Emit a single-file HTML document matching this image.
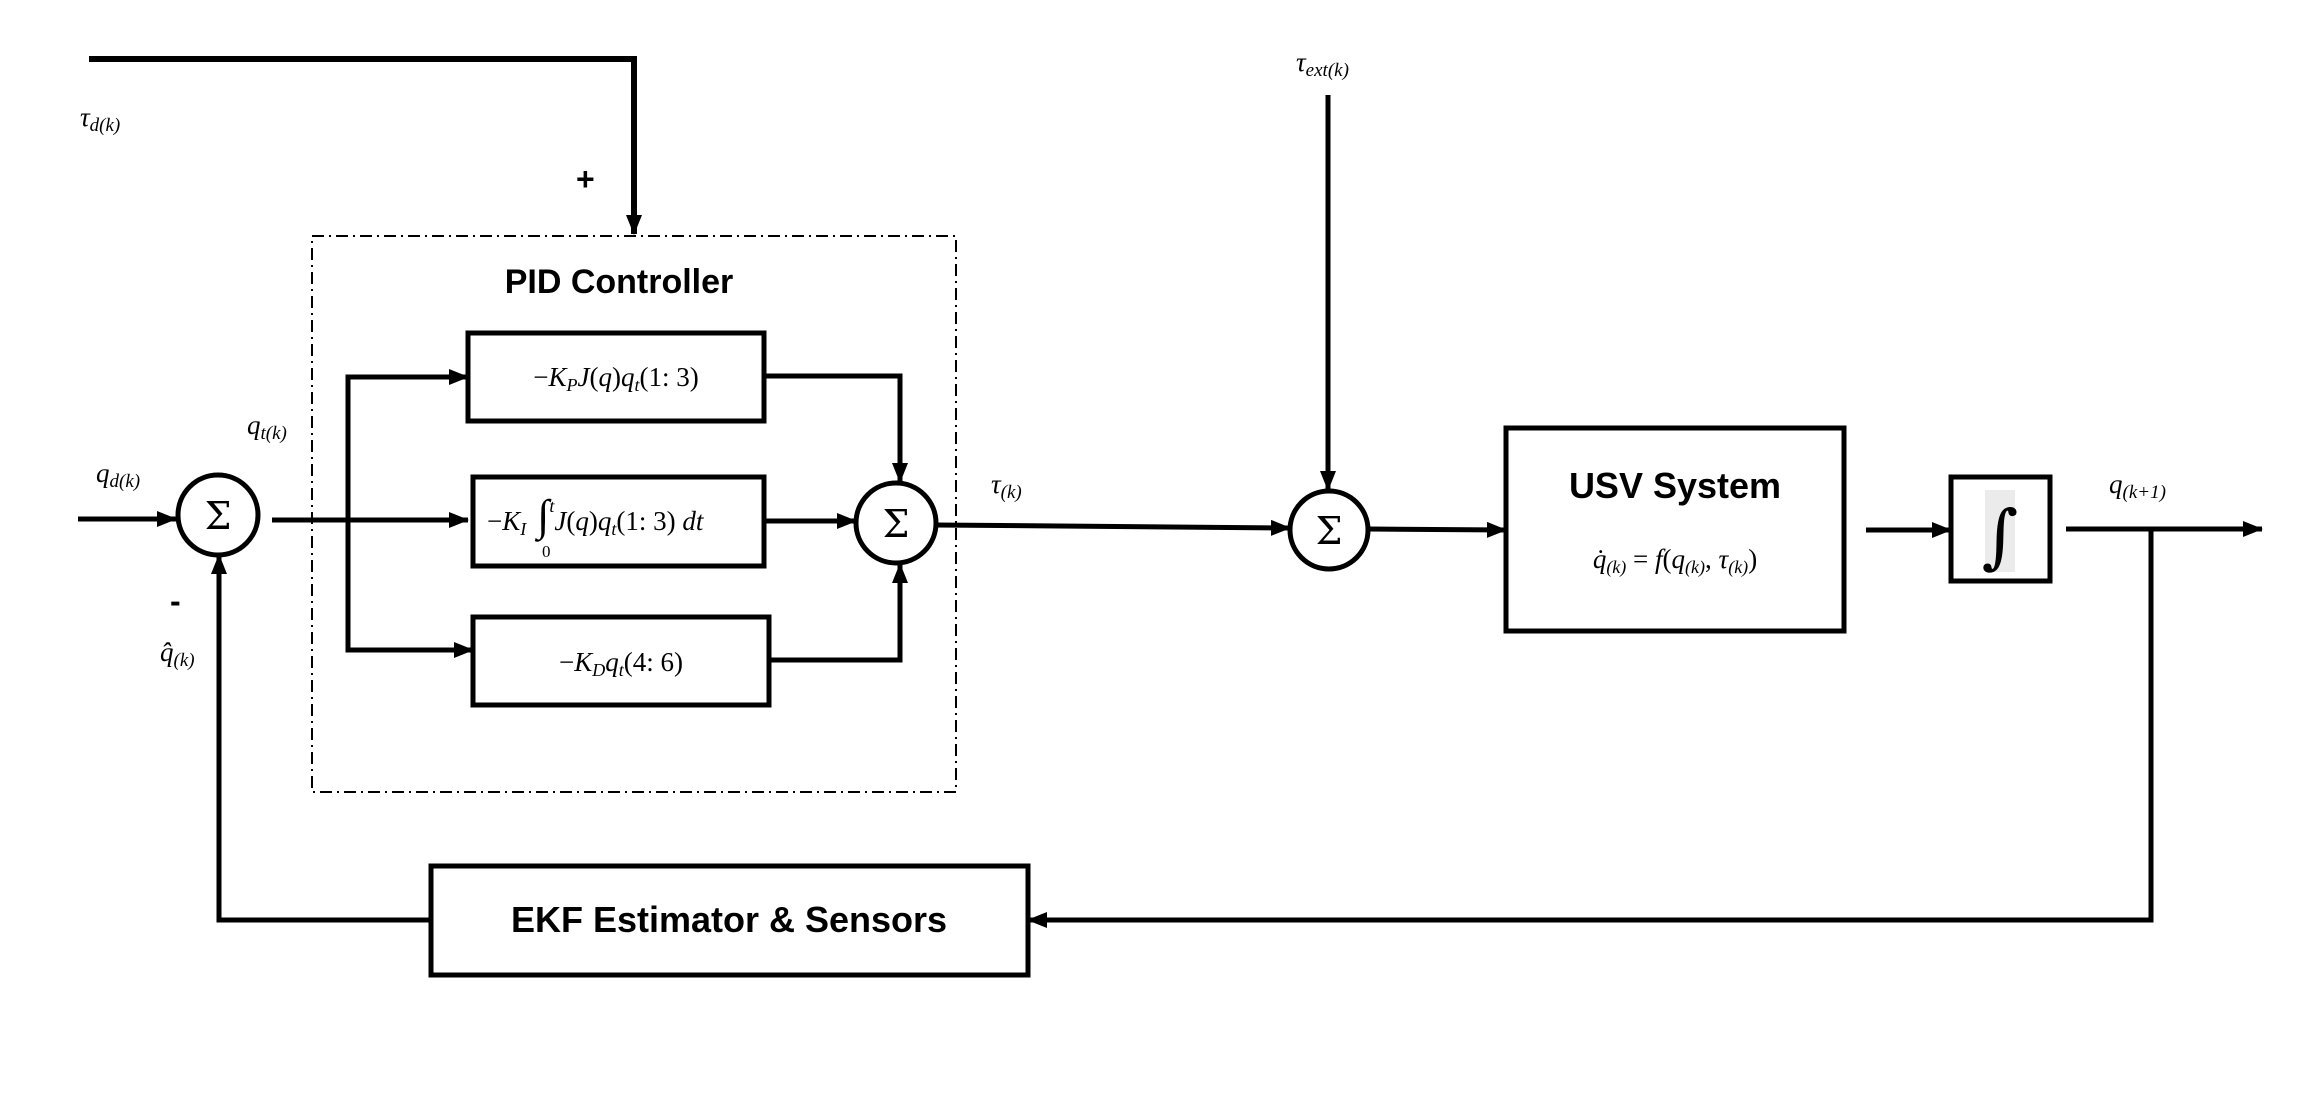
<!DOCTYPE html>
<html><head><meta charset="utf-8"><style>
html,body{margin:0;padding:0;background:#fff;}
svg{display:block;}
.m{font-family:"Liberation Serif",serif;font-style:italic;font-size:27px;}
.n{font-family:"Liberation Serif",serif;font-style:normal;}
.b{font-family:"Liberation Sans",sans-serif;font-weight:bold;}
</style></head><body>
<svg width="2297" height="1094" viewBox="0 0 2297 1094" xmlns="http://www.w3.org/2000/svg">
<defs>
<marker id="a" markerWidth="20" markerHeight="16" refX="19" refY="8" orient="auto" markerUnits="userSpaceOnUse">
<path d="M0,0 L20,8 L0,16 z" fill="#000"/></marker>
</defs>
<g stroke="#000" stroke-width="5" fill="none">
<polyline points="89,59 634,59 634,234" stroke-width="6" marker-end="url(#a)"/>
<rect x="312" y="236" width="644" height="556" stroke-width="2" stroke-dasharray="12,5,2,5"/>
<rect x="468" y="333" width="296" height="88"/>
<rect x="473" y="477" width="291" height="89"/>
<rect x="473" y="617" width="296" height="88"/>
<rect x="1506" y="428" width="338" height="203"/>
<rect x="1951" y="477" width="99" height="104"/>
<rect x="431" y="866" width="597" height="109"/>
<circle cx="218" cy="515" r="40"/>
<circle cx="896" cy="523" r="40"/>
<circle cx="1329" cy="530" r="39"/>
<line x1="78" y1="519" x2="176" y2="519" marker-end="url(#a)"/>
<line x1="272" y1="520" x2="468" y2="520" marker-end="url(#a)"/>
<polyline points="466,650 348,650 348,377 466,377" fill="none"/>
<line x1="350" y1="377" x2="468" y2="377" marker-end="url(#a)"/>
<line x1="350" y1="650" x2="473" y2="650" marker-end="url(#a)"/>
<polyline points="764,376 900,376 900,482" marker-end="url(#a)"/>
<polyline points="769,660 900,660 900,564" marker-end="url(#a)"/>
<line x1="764" y1="521" x2="856" y2="521" marker-end="url(#a)"/>
<line x1="936" y1="525" x2="1290" y2="528" marker-end="url(#a)"/>
<line x1="1328" y1="95" x2="1328" y2="490" marker-end="url(#a)"/>
<line x1="1369" y1="529" x2="1506" y2="530" marker-end="url(#a)"/>
<line x1="1866" y1="530" x2="1951" y2="530" marker-end="url(#a)"/>
<line x1="2066" y1="529" x2="2262" y2="529" marker-end="url(#a)"/>
<polyline points="2151,529 2151,920 1028,920" marker-end="url(#a)"/>
<polyline points="431,920 219,920 219,555" marker-end="url(#a)"/>
</g>
<rect x="1985" y="490" width="30" height="82" fill="#ebebeb"/>
<text x="2000" y="560" text-anchor="middle" font-family="DejaVu Serif,serif" font-size="70">∫</text>
<g font-family="DejaVu Serif,serif" font-size="38" text-anchor="middle">
<text x="218" y="529">Σ</text><text x="896" y="537">Σ</text><text x="1329" y="544">Σ</text>
</g>
<text class="b" x="619" y="293" font-size="34" text-anchor="middle">PID Controller</text>
<text class="b" x="1675" y="498" font-size="36" text-anchor="middle">USV System</text>
<text class="b" x="729" y="932" font-size="36" text-anchor="middle">EKF Estimator &amp; Sensors</text>
<g class="m">
<text x="80" y="126">τ<tspan font-size="19" dy="5">d(k)</tspan></text>
<text x="1296" y="71">τ<tspan font-size="19" dy="5">ext(k)</tspan></text>
<text x="96" y="482">q<tspan font-size="19" dy="5">d(k)</tspan></text>
<text x="247" y="434">q<tspan font-size="19" dy="5">t(k)</tspan></text>
<text x="160" y="661">q̂<tspan font-size="19" dy="5">(k)</tspan></text>
<text x="991" y="493">τ<tspan font-size="19" dy="5">(k)</tspan></text>
<text x="2109" y="493">q<tspan font-size="19" dy="5">(k+1)</tspan></text>
<text x="616" y="386" text-anchor="middle"><tspan class="n">−</tspan>K<tspan font-size="18" dy="5">P</tspan><tspan dy="-5">J</tspan><tspan class="n">(</tspan>q<tspan class="n">)</tspan>q<tspan font-size="18" dy="5">t</tspan><tspan class="n" dy="-5">(1: 3)</tspan></text>
<text x="487" y="530"><tspan class="n">−</tspan>K<tspan font-size="18" dy="5">I</tspan><tspan dy="-5" class="n" font-size="44"> ∫</tspan><tspan font-size="18" dy="-18">t</tspan><tspan dy="18">J</tspan><tspan class="n">(</tspan>q<tspan class="n">)</tspan>q<tspan font-size="18" dy="5">t</tspan><tspan class="n" dy="-5">(1: 3) </tspan>dt</text>
<text x="542" y="557" font-size="17" class="n">0</text>
<text x="621" y="671" text-anchor="middle"><tspan class="n">−</tspan>K<tspan font-size="18" dy="5">D</tspan><tspan dy="-5">q</tspan><tspan font-size="18" dy="5">t</tspan><tspan class="n" dy="-5">(4: 6)</tspan></text>
<text x="1675" y="568" text-anchor="middle">q̇<tspan font-size="18" dy="5">(k)</tspan><tspan class="n" dy="-5"> = </tspan>f<tspan class="n">(</tspan>q<tspan font-size="18" dy="5">(k)</tspan><tspan class="n" dy="-5">, </tspan>τ<tspan font-size="18" dy="5">(k)</tspan><tspan class="n" dy="-5">)</tspan></text>
</g>
<g font-family="Liberation Sans,sans-serif" font-size="32" font-weight="bold">
<text x="576" y="190">+</text>
<text x="170" y="612">-</text>
</g>
</svg>
</body></html>
